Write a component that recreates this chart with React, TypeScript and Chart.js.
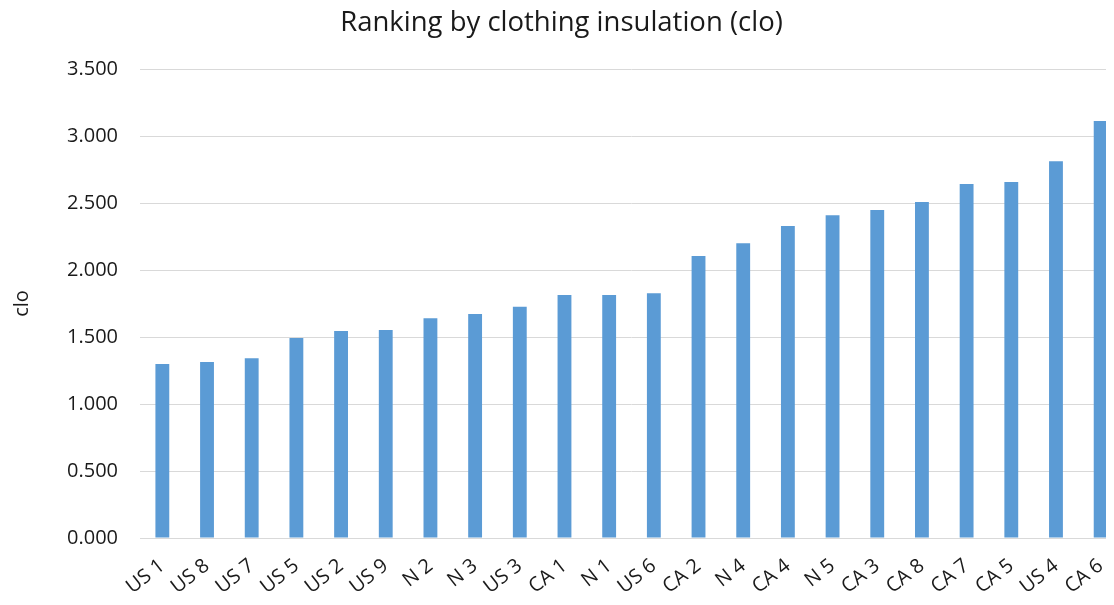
import React, { useEffect, useRef } from "react";
import { Chart, registerables } from "chart.js";

Chart.register(...registerables);

const categories = ["US 1","US 8","US 7","US 5","US 2","US 9","N 2","N 3","US 3","CA 1","N 1","US 6","CA 2","N 4","CA 4","N 5","CA 3","CA 8","CA 7","CA 5","US 4","CA 6"];
const cloValues = [1.299,1.313,1.341,1.493,1.545,1.552,1.639,1.672,1.726,1.813,1.813,1.826,2.104,2.199,2.328,2.408,2.448,2.507,2.642,2.657,2.811,3.112];
const yTicks = [0, 0.5, 1, 1.5, 2, 2.5, 3, 3.5];

const FONT = "'Open Sans', 'Noto Sans', sans-serif";
const TEXT = "#1a1a1a";

export default function App() {
  const ref = useRef<HTMLCanvasElement | null>(null);
  useEffect(() => {
    if (!ref.current) return;
    const chart = new Chart(ref.current, {
      type: "bar",
      data: {
        labels: categories,
        datasets: [{
          data: cloValues,
          backgroundColor: "#5B9BD5",
          borderWidth: 0,
          barPercentage: 0.31,
          categoryPercentage: 1,
        }],
      },
      options: {
        animation: false,
        responsive: false,
        maintainAspectRatio: false,
        layout: { padding: 0 },
        plugins: {
          legend: { display: false },
          tooltip: { enabled: false },
          title: {
            display: true,
            text: "Ranking by clothing insulation (clo)",
            color: TEXT,
            font: { family: FONT, size: 27.5, weight: "normal" },
            padding: { top: 7, bottom: 29 },
          },
        },
        scales: {
          x: {
            grid: { display: false, drawTicks: false },
            border: { display: true, color: "#D9D9D9", width: 1 },
            ticks: {
              color: TEXT,
              font: { family: FONT, size: 20 },
              maxRotation: 38,
              minRotation: 38,
              padding: 16,
              autoSkip: false,
            },
            afterFit: (s: any) => { s.height = 67; s.paddingRight = 0; s.paddingLeft = 0; },
          },
          y: {
            min: 0,
            max: 3.5,
            afterBuildTicks: (s: any) => { s.ticks = yTicks.map((v) => ({ value: v })); },
            grid: { color: "#D9D9D9", drawTicks: false },
            border: { display: false },
            ticks: {
              color: TEXT,
              font: { family: FONT, size: 20 },
              padding: 22,
              callback: (v: any) => Number(v).toFixed(3),
            },
            title: {
              display: true,
              text: "clo",
              color: TEXT,
              font: { family: FONT, size: 20 },
              padding: { top: 10, bottom: 0 },
            },
            afterFit: (s: any) => { s.width = 140; },
          },
        },
      },
    });
    return () => chart.destroy();
  }, []);
  return (
    <div style={{ margin: "-8px", width: 1114, height: 605, overflow: "hidden", background: "#fff" }}>
      <canvas ref={ref} width={1123} height={605} style={{ display: "block" }} />
    </div>
  );
}
